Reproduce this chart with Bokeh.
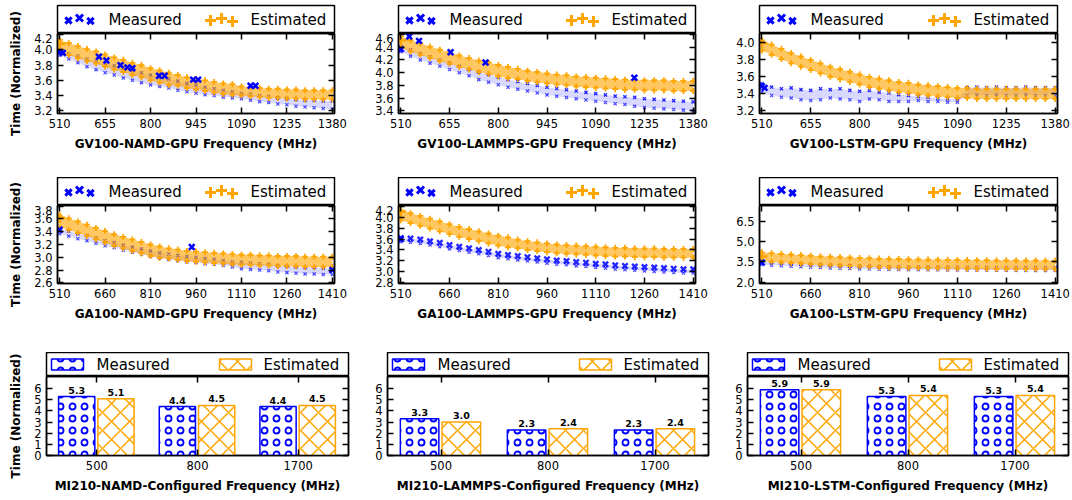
import math
from bokeh.plotting import figure
from bokeh.layouts import row, column
from bokeh.models import (Range1d, FixedTicker, LinearAxis, CategoricalAxis,
                          FactorRange, ColumnDataSource, PrintfTickFormatter)
from bokeh.transform import dodge
from bokeh.core.properties import value
from bokeh.embed import file_html
from bokeh.resources import INLINE

BLUE = "#0000ff"
ORANGE = "#ffa500"
FONT = "DejaVu Sans"

# ---------------- data ----------------
gv_freq = [510, 539, 568, 597, 626, 655, 684, 713, 742, 771, 800, 829, 858, 887, 916,
           945, 974, 1003, 1032, 1061, 1090, 1119, 1148, 1177, 1206, 1235, 1264, 1293,
           1322, 1351, 1380]
ga_freq = [510, 540, 570, 600, 630, 660, 690, 720, 750, 780, 810, 840, 870, 900, 930,
           960, 990, 1020, 1050, 1080, 1110, 1140, 1170, 1200, 1230, 1260, 1290, 1320,
           1350, 1380, 1410]
gv_xticks = [510, 655, 800, 945, 1090, 1235, 1380]
ga_xticks = [510, 660, 810, 960, 1110, 1260, 1410]

# GV100-NAMD
gv_namd_est_hi = [4.13, 4.09, 4.05, 4.01, 3.98, 3.94, 3.90, 3.87, 3.83, 3.80, 3.76, 3.73, 3.70, 3.67, 3.64,
                  3.62, 3.60, 3.58, 3.56, 3.55, 3.52, 3.51, 3.50, 3.49, 3.49, 3.48, 3.48, 3.47, 3.47, 3.47, 3.47]
gv_namd_est_lo = [3.97, 3.93, 3.89, 3.85, 3.82, 3.78, 3.74, 3.71, 3.67, 3.64, 3.60, 3.57, 3.54, 3.53, 3.50,
                  3.48, 3.46, 3.44, 3.42, 3.41, 3.40, 3.39, 3.38, 3.37, 3.37, 3.36, 3.36, 3.35, 3.35, 3.35, 3.35]
gv_namd_meas_hi = [3.99, 3.95, 3.92, 3.88, 3.85, 3.82, 3.79, 3.76, 3.73, 3.70, 3.67, 3.64, 3.62, 3.59, 3.56,
                   3.54, 3.51, 3.49, 3.47, 3.45, 3.43, 3.42, 3.40, 3.39, 3.37, 3.36, 3.35, 3.34, 3.34, 3.33, 3.33]
gv_namd_meas_lo = [3.93, 3.88, 3.83, 3.78, 3.74, 3.70, 3.67, 3.63, 3.60, 3.57, 3.54, 3.52, 3.50, 3.47, 3.45,
                   3.43, 3.41, 3.40, 3.38, 3.37, 3.36, 3.34, 3.32, 3.31, 3.29, 3.28, 3.26, 3.25, 3.24, 3.23, 3.22]
gv_namd_out_x = [510, 520, 635, 659, 704, 726, 742, 827, 845, 936, 952, 1119, 1135]
gv_namd_out_y = [3.97, 3.96, 3.91, 3.86, 3.80, 3.77, 3.76, 3.66, 3.66, 3.61, 3.61, 3.53, 3.53]
gv_namd_est_start = [4.08]

# GV100-LAMMPS
gv_lammps_est_hi = [4.57, 4.51, 4.46, 4.41, 4.36, 4.32, 4.27, 4.23, 4.19, 4.16, 4.12, 4.09, 4.06, 4.03, 4.01,
                    3.99, 3.97, 3.96, 3.94, 3.93, 3.92, 3.91, 3.90, 3.89, 3.89, 3.88, 3.88, 3.88, 3.87, 3.87, 3.87]
gv_lammps_est_lo = [4.39, 4.33, 4.28, 4.23, 4.18, 4.14, 4.09, 4.05, 4.01, 3.98, 3.94, 3.91, 3.90, 3.87, 3.85,
                    3.83, 3.81, 3.80, 3.78, 3.77, 3.76, 3.75, 3.74, 3.73, 3.73, 3.72, 3.72, 3.72, 3.71, 3.71, 3.71]
gv_lammps_meas_hi = [4.41, 4.36, 4.30, 4.25, 4.20, 4.15, 4.10, 4.05, 4.01, 3.97, 3.93, 3.89, 3.86, 3.83, 3.80,
                     3.77, 3.75, 3.73, 3.71, 3.69, 3.67, 3.65, 3.63, 3.62, 3.61, 3.59, 3.58, 3.57, 3.56, 3.55, 3.54]
gv_lammps_meas_lo = [4.33, 4.26, 4.20, 4.15, 4.10, 4.05, 4.00, 3.95, 3.89, 3.85, 3.81, 3.77, 3.74, 3.71, 3.68,
                     3.65, 3.63, 3.61, 3.59, 3.57, 3.55, 3.53, 3.51, 3.50, 3.47, 3.45, 3.44, 3.43, 3.42, 3.41, 3.40]
gv_lammps_out_x = [510, 535, 564, 658, 762, 1205]
gv_lammps_out_y = [4.37, 4.57, 4.50, 4.32, 4.16, 3.92]
gv_lammps_est_start = [4.51]

# GV100-LSTM
gv_lstm_est_hi = [4.03, 3.98, 3.93, 3.88, 3.84, 3.80, 3.76, 3.72, 3.69, 3.66, 3.63, 3.60, 3.58, 3.56, 3.54,
                  3.53, 3.51, 3.50, 3.49, 3.48, 3.47, 3.47, 3.46, 3.46, 3.46, 3.46, 3.46, 3.46, 3.46, 3.46, 3.46]
gv_lstm_est_lo = [3.91, 3.86, 3.81, 3.76, 3.72, 3.68, 3.64, 3.60, 3.57, 3.54, 3.51, 3.48, 3.46, 3.44, 3.42,
                  3.41, 3.39, 3.38, 3.37, 3.36, 3.35, 3.35, 3.34, 3.34, 3.34, 3.34, 3.34, 3.34, 3.34, 3.34, 3.34]
gv_lstm_meas_hi = [3.52, 3.48, 3.46, 3.47, 3.45, 3.44, 3.46, 3.45, 3.46, 3.44, 3.43, 3.44, 3.42, 3.41, 3.39,
                   3.38, 3.37, 3.36, 3.35, 3.34, 3.34, 3.47, 3.48, 3.47, 3.48, 3.47, 3.47, 3.48, 3.47, 3.47, 3.47]
gv_lstm_meas_lo = [3.42, 3.38, 3.36, 3.35, 3.33, 3.32, 3.33, 3.35, 3.34, 3.33, 3.31, 3.34, 3.33, 3.31, 3.31,
                   3.31, 3.32, 3.31, 3.31, 3.30, 3.30, 3.38, 3.39, 3.38, 3.39, 3.38, 3.38, 3.39, 3.38, 3.38, 3.38]
gv_lstm_out_x = [510, 518]
gv_lstm_out_y = [3.49, 3.47]
gv_lstm_est_start = [4.00]

# GA100-NAMD
ga_namd_est_hi = [3.65, 3.61, 3.56, 3.51, 3.46, 3.41, 3.36, 3.32, 3.28, 3.24, 3.20, 3.17, 3.14, 3.12, 3.10,
                  3.09, 3.08, 3.07, 3.06, 3.05, 3.04, 3.04, 3.03, 3.03, 3.02, 3.02, 3.02, 3.01, 3.01, 3.01, 3.01]
ga_namd_est_lo = [3.47, 3.43, 3.38, 3.33, 3.28, 3.23, 3.18, 3.14, 3.10, 3.06, 3.02, 2.99, 2.98, 2.96, 2.94,
                  2.93, 2.92, 2.91, 2.90, 2.89, 2.88, 2.88, 2.87, 2.87, 2.86, 2.86, 2.86, 2.85, 2.85, 2.85, 2.85]
ga_namd_meas_hi = [3.45, 3.41, 3.37, 3.34, 3.30, 3.26, 3.23, 3.19, 3.16, 3.13, 3.10, 3.07, 3.05, 3.03, 3.01,
                   3.00, 2.98, 2.97, 2.95, 2.93, 2.92, 2.91, 2.90, 2.89, 2.87, 2.86, 2.85, 2.84, 2.84, 2.83, 2.83]
ga_namd_meas_lo = [3.37, 3.33, 3.29, 3.26, 3.22, 3.18, 3.15, 3.11, 3.08, 3.05, 3.02, 2.99, 2.97, 2.95, 2.93,
                   2.92, 2.90, 2.89, 2.87, 2.85, 2.82, 2.81, 2.80, 2.79, 2.77, 2.76, 2.75, 2.74, 2.74, 2.73, 2.73]
ga_namd_out_x = [510, 946, 1410]
ga_namd_out_y = [3.43, 3.16, 2.80]
ga_namd_est_start = [3.62]

# GA100-LAMMPS
ga_lammps_est_hi = [4.12, 4.07, 4.02, 3.97, 3.92, 3.87, 3.82, 3.78, 3.74, 3.70, 3.66, 3.63, 3.59, 3.56, 3.54,
                    3.52, 3.50, 3.49, 3.48, 3.47, 3.46, 3.45, 3.44, 3.44, 3.43, 3.43, 3.43, 3.42, 3.42, 3.42, 3.42]
ga_lammps_est_lo = [3.94, 3.89, 3.84, 3.79, 3.74, 3.69, 3.64, 3.60, 3.56, 3.52, 3.48, 3.45, 3.43, 3.40, 3.38,
                    3.36, 3.34, 3.33, 3.32, 3.31, 3.30, 3.29, 3.28, 3.28, 3.27, 3.27, 3.27, 3.26, 3.26, 3.26, 3.26]
ga_lammps_meas_hi = [3.62, 3.61, 3.59, 3.56, 3.53, 3.49, 3.46, 3.43, 3.40, 3.37, 3.33, 3.31, 3.29, 3.27, 3.25,
                     3.23, 3.21, 3.20, 3.18, 3.17, 3.15, 3.14, 3.12, 3.11, 3.10, 3.09, 3.08, 3.07, 3.06, 3.05, 3.05]
ga_lammps_meas_lo = [3.55, 3.54, 3.52, 3.49, 3.46, 3.42, 3.39, 3.36, 3.33, 3.30, 3.26, 3.24, 3.22, 3.20, 3.18,
                     3.16, 3.14, 3.13, 3.11, 3.10, 3.08, 3.07, 3.05, 3.04, 3.03, 3.02, 3.01, 3.00, 2.99, 2.98, 2.98]
ga_lammps_out_x = [510]
ga_lammps_out_y = [3.60]
ga_lammps_est_start = [4.10]

# GA100-LSTM
ga_lstm_est_hi = [4.20, 4.14, 4.09, 4.04, 4.00, 3.95, 3.91, 3.88, 3.85, 3.82, 3.79, 3.77, 3.74, 3.72, 3.71,
                  3.69, 3.68, 3.67, 3.66, 3.65, 3.64, 3.63, 3.62, 3.62, 3.61, 3.61, 3.60, 3.60, 3.60, 3.59, 3.59]
ga_lstm_est_lo = [3.56, 3.50, 3.45, 3.40, 3.36, 3.31, 3.27, 3.24, 3.21, 3.18, 3.15, 3.13, 3.10, 3.08, 3.07,
                  3.05, 3.04, 3.03, 3.02, 3.01, 3.00, 2.99, 2.98, 2.98, 2.97, 2.97, 2.96, 2.96, 2.96, 2.95, 2.95]
ga_lstm_meas_hi = [3.50, 3.45, 3.41, 3.37, 3.34, 3.30, 3.28, 3.25, 3.22, 3.20, 3.18, 3.17, 3.15, 3.14, 3.13,
                   3.12, 3.12, 3.11, 3.11, 3.10, 3.10, 3.09, 3.09, 3.09, 3.08, 3.08, 3.08, 3.08, 3.07, 3.07, 3.07]
ga_lstm_meas_lo = [3.30, 3.25, 3.21, 3.17, 3.14, 3.10, 3.08, 3.05, 3.02, 3.00, 2.98, 2.97, 2.95, 2.94, 2.93,
                   2.92, 2.92, 2.91, 2.91, 2.90, 2.90, 2.89, 2.89, 2.89, 2.88, 2.88, 2.88, 2.88, 2.87, 2.87, 2.87]
ga_lstm_out_x = [510]
ga_lstm_out_y = [3.45]
ga_lstm_est_start = [3.90]

# MI210 bars
mi_freqs = ["500", "800", "1700"]
mi_namd_meas = [5.3, 4.4, 4.4]
mi_namd_est = [5.1, 4.5, 4.5]
mi_lammps_meas = [3.3, 2.3, 2.3]
mi_lammps_est = [3.0, 2.4, 2.4]
mi_lstm_meas = [5.9, 5.3, 5.3]
mi_lstm_est = [5.9, 5.4, 5.4]
bar_yticks = [0, 1, 2, 3, 4, 5, 6]

YLABEL = "Time (Normalized)"


# ---------------- helpers ----------------
def base_fig(fw, fh, lb, rb, bb, xr, yr, xlabel=None, bt=0, no_axes=False):
    kw = dict(frame_width=fw, frame_height=fh, min_border_left=lb, min_border_right=rb,
              min_border_top=bt, min_border_bottom=bb, x_range=xr, y_range=yr,
              output_backend="svg", toolbar_location=None)
    if no_axes:
        kw.update(x_axis_location=None, y_axis_location=None)
    elif xlabel:
        kw["x_axis_label"] = xlabel
    p = figure(**kw)
    p.grid.visible = False
    p.outline_line_color = "black"
    p.outline_line_width = 1.5
    p.background_fill_color = "white"
    p.border_fill_color = "white"
    return p


def style_axis(ax, hidden=False):
    ax.major_tick_in = 6
    ax.major_tick_out = 0
    ax.minor_tick_line_color = None
    ax.axis_line_color = "black"
    ax.axis_line_width = 1.5
    ax.major_tick_line_color = "black"
    ax.major_tick_line_width = 1.5
    if hidden:
        ax.major_label_text_color = None
        ax.major_label_text_font_size = "1px"
        ax.major_label_standoff = 0
    else:
        ax.major_label_text_font = FONT
        ax.major_label_text_font_size = "11.5px"
        ax.major_label_text_color = "black"
        ax.major_label_standoff = 5
        ax.axis_label_text_font = FONT
        ax.axis_label_text_font_size = "12px"
        ax.axis_label_text_font_style = "bold"
        ax.axis_label_text_color = "black"


def mirror_axes(p, xticks=None, yticks=None, categorical=False):
    top = CategoricalAxis() if categorical else LinearAxis(ticker=FixedTicker(ticks=xticks))
    right = LinearAxis(ticker=FixedTicker(ticks=yticks))
    style_axis(top, hidden=True)
    style_axis(right, hidden=True)
    p.add_layout(top, "above")
    p.add_layout(right, "right")


def legend_text(q, x, y, s):
    q.text(x=[x], y=[y], text=[s], text_font=value(FONT), text_font_size="15px",
           text_baseline="middle", text_align="left", text_color="black")


def scatter_legend(fw, lh, lb, rb, bt):
    q = base_fig(fw, lh, lb, rb, 0, Range1d(0, fw), Range1d(0, lh), bt=bt, no_axes=True)
    cy = lh / 2.0
    q.scatter(x=[11, 22, 33], y=[cy - 1, cy + 1.5, cy - 1.5], marker="x", size=[9, 10, 9],
              line_color=BLUE, line_width=3)
    legend_text(q, 51, cy, "Measured")
    q.scatter(x=[fw - 124, fw - 113, fw - 102], y=[cy - 1, cy + 1, cy - 2], marker="cross",
              size=[11, 11, 11], line_color=ORANGE, line_width=3)
    legend_text(q, fw - 84, cy, "Estimated")
    return q


def bar_legend(fw, lh, lb, rb, bt):
    q = base_fig(fw, lh, lb, rb, 0, Range1d(0, fw), Range1d(0, lh), bt=bt, no_axes=True)
    cy = lh / 2.0
    q.quad(left=[5], right=[37], bottom=[cy - 5.5], top=[cy + 5.5], fill_color="white",
           line_color=BLUE, line_width=1.5, hatch_pattern="ring", hatch_color=BLUE,
           hatch_scale=12, hatch_weight=1.8)
    legend_text(q, 50, cy, "Measured")
    q.quad(left=[fw - 129], right=[fw - 97], bottom=[cy - 5.5], top=[cy + 5.5], fill_color="white",
           line_color=ORANGE, line_width=1.5, hatch_pattern="diagonal_cross", hatch_color=ORANGE,
           hatch_scale=18, hatch_weight=1.5)
    legend_text(q, fw - 85, cy, "Estimated")
    return q


def ylabel_fig(width, bt, lh, fh, bb):
    total = bt + lh + fh + bb
    q = figure(width=width, height=total, min_border=0, x_range=Range1d(0, width),
               y_range=Range1d(0, total), x_axis_location=None, y_axis_location=None,
               output_backend="svg", toolbar_location=None)
    q.grid.visible = False
    q.outline_line_color = None
    q.border_fill_color = "white"
    q.background_fill_color = "white"
    q.text(x=[width / 2.0], y=[bb + fh / 2.0], text=[YLABEL], angle=math.pi / 2,
           text_font=value(FONT), text_font_size="12px", text_font_style="bold",
           text_align="center", text_baseline="middle", text_color="black")
    return q


def wrap(cell, dims, with_ylabel):
    fw, fh, lb, rb, bb, lh, bt, ylw = dims
    if with_ylabel:
        return row(ylabel_fig(ylw, bt, lh, fh, bb), cell, spacing=0)
    return cell


def scatter_panel(freq, est_hi, est_lo, meas_hi, meas_lo, out_x, out_y, est_start,
                  xr, yr, xticks, yticks, xlabel, dims, meas_size=4.5, meas_lw=1.3):
    fw, fh, lb, rb, bb, lh, bt, ylw = dims
    leg = scatter_legend(fw, lh, lb, rb, bt)
    p = base_fig(fw, fh, lb, rb, bb, Range1d(*xr), Range1d(*yr), xlabel=xlabel)
    style_axis(p.xaxis[0])
    style_axis(p.yaxis[0])
    p.xaxis[0].ticker = FixedTicker(ticks=xticks)
    p.yaxis[0].ticker = FixedTicker(ticks=yticks)
    p.yaxis[0].formatter = PrintfTickFormatter(format="%.1f")
    p.xaxis[0].axis_label_standoff = 6
    mirror_axes(p, xticks=xticks, yticks=yticks)

    # measured band
    p.varea(x=freq, y1=meas_lo, y2=meas_hi, fill_color=BLUE, fill_alpha=0.15)
    p.scatter(x=freq, y=meas_hi, marker="x", size=meas_size, line_color=BLUE,
              line_width=meas_lw, line_alpha=0.85)
    p.scatter(x=freq, y=meas_lo, marker="x", size=4.5, line_color=BLUE,
              line_width=1.2, line_alpha=0.7)
    # estimated band
    p.varea(x=freq, y1=est_lo, y2=est_hi, fill_color=ORANGE, fill_alpha=0.62)
    p.scatter(x=freq, y=est_hi, marker="cross", size=6, line_color=ORANGE, line_width=1.8)
    p.scatter(x=freq, y=est_lo, marker="cross", size=6, line_color=ORANGE, line_width=1.8)
    # emphasised points
    p.scatter(x=[freq[0]], y=est_start, marker="cross", size=11, line_color=ORANGE, line_width=2.5)
    p.scatter(x=out_x, y=out_y, marker="x", size=8, line_color=BLUE, line_width=2.5)
    return column(leg, p, spacing=0)


def bar_panel(meas, est, xlabel, dims):
    fw, fh, lb, rb, bb, lh, bt, ylw = dims
    leg = bar_legend(fw, lh, lb, rb, bt)
    p = base_fig(fw, fh, lb, rb, bb, FactorRange(factors=mi_freqs, range_padding=0),
                 Range1d(0, 7.1), xlabel=xlabel)
    style_axis(p.xaxis[0])
    style_axis(p.yaxis[0])
    p.yaxis[0].ticker = FixedTicker(ticks=bar_yticks)
    p.xaxis[0].axis_label_standoff = 6
    mirror_axes(p, yticks=bar_yticks, categorical=True)
    src = ColumnDataSource(dict(cat=mi_freqs, meas=meas, est=est,
                                meas_lbl=["%.1f" % v for v in meas],
                                est_lbl=["%.1f" % v for v in est]))
    p.vbar(x=dodge("cat", -0.2, range=p.x_range), top="meas", width=0.36, source=src,
           fill_color="white", line_color=BLUE, line_width=1.5, hatch_pattern="ring",
           hatch_color=BLUE, hatch_scale=12, hatch_weight=1.8)
    p.vbar(x=dodge("cat", 0.19, range=p.x_range), top="est", width=0.36, source=src,
           fill_color="white", line_color=ORANGE, line_width=1.5, hatch_pattern="diagonal_cross",
           hatch_color=ORANGE, hatch_scale=18, hatch_weight=1.5)
    for off, col, lbl in ((-0.2, "meas", "meas_lbl"), (0.19, "est", "est_lbl")):
        p.text(x=dodge("cat", off, range=p.x_range), y=col, text=lbl, source=src,
               text_align="center", text_baseline="bottom", y_offset=-3,
               text_font=value(FONT), text_font_style="bold", text_font_size="9.5px",
               text_color="black")
    return column(leg, p, spacing=0)


# ---------------- layout ----------------
# (frame_w, frame_h, border_left, border_right, border_bottom, legend_h, top_pad, ylabel_w)
r1 = [(277, 80, 27, 26, 64, 28, 5, 30), (297, 80, 38, 25, 64, 28, 5, 0), (298, 80, 39, 15, 64, 28, 5, 0)]
r2 = [(277, 78, 27, 26, 69, 28, 0, 30), (297, 78, 38, 25, 69, 28, 0, 0), (298, 78, 39, 15, 69, 28, 0, 0)]
r3 = [(302, 79, 16, 19, 45, 24, 0, 30), (321, 79, 20, 19, 45, 24, 0, 0), (321, 79, 20, 4, 45, 24, 0, 0)]

gv_xr = (503, 1387)
ga_xr = (503, 1417)

row1 = row(
    wrap(scatter_panel(gv_freq, gv_namd_est_hi, gv_namd_est_lo, gv_namd_meas_hi, gv_namd_meas_lo,
                       gv_namd_out_x, gv_namd_out_y, gv_namd_est_start, gv_xr, (3.165, 4.215),
                       gv_xticks, [3.2, 3.4, 3.6, 3.8, 4.0, 4.2],
                       "GV100-NAMD-GPU Frequency (MHz)", r1[0]), r1[0], True),
    scatter_panel(gv_freq, gv_lammps_est_hi, gv_lammps_est_lo, gv_lammps_meas_hi, gv_lammps_meas_lo,
                  gv_lammps_out_x, gv_lammps_out_y, gv_lammps_est_start, gv_xr, (3.357, 4.616),
                  gv_xticks, [3.4, 3.6, 3.8, 4.0, 4.2, 4.4, 4.6],
                  "GV100-LAMMPS-GPU Frequency (MHz)", r1[1]),
    scatter_panel(gv_freq, gv_lstm_est_hi, gv_lstm_est_lo, gv_lstm_meas_hi, gv_lstm_meas_lo,
                  gv_lstm_out_x, gv_lstm_out_y, gv_lstm_est_start, gv_xr, (3.168, 4.111),
                  gv_xticks, [3.2, 3.4, 3.6, 3.8, 4.0],
                  "GV100-LSTM-GPU Frequency (MHz)", r1[2]),
    spacing=0)

row2 = row(
    wrap(scatter_panel(ga_freq, ga_namd_est_hi, ga_namd_est_lo, ga_namd_meas_hi, ga_namd_meas_lo,
                       ga_namd_out_x, ga_namd_out_y, ga_namd_est_start, ga_xr, (2.59, 3.81),
                       ga_xticks, [2.6, 2.8, 3.0, 3.2, 3.4, 3.6, 3.8],
                       "GA100-NAMD-GPU Frequency (MHz)", r2[0]), r2[0], True),
    scatter_panel(ga_freq, ga_lammps_est_hi, ga_lammps_est_lo, ga_lammps_meas_hi, ga_lammps_meas_lo,
                  ga_lammps_out_x, ga_lammps_out_y, ga_lammps_est_start, ga_xr, (2.79, 4.21),
                  ga_xticks, [2.8, 3.0, 3.2, 3.4, 3.6, 3.8, 4.0, 4.2],
                  "GA100-LAMMPS-GPU Frequency (MHz)", r2[1], meas_size=7.5, meas_lw=2.4),
    scatter_panel(ga_freq, ga_lstm_est_hi, ga_lstm_est_lo, ga_lstm_meas_hi, ga_lstm_meas_lo,
                  ga_lstm_out_x, ga_lstm_out_y, ga_lstm_est_start, ga_xr, (1.9, 7.66),
                  ga_xticks, [2.0, 3.5, 5.0, 6.5],
                  "GA100-LSTM-GPU Frequency (MHz)", r2[2]),
    spacing=0)

row3 = row(
    wrap(bar_panel(mi_namd_meas, mi_namd_est, "MI210-NAMD-Configured Frequency (MHz)", r3[0]), r3[0], True),
    bar_panel(mi_lammps_meas, mi_lammps_est, "MI210-LAMMPS-Configured Frequency (MHz)", r3[1]),
    bar_panel(mi_lstm_meas, mi_lstm_est, "MI210-LSTM-Configured Frequency (MHz)", r3[2]),
    spacing=0)

layout = column(row1, row2, row3, spacing=0)

open("out.html", "w").write(file_html(layout, INLINE))
